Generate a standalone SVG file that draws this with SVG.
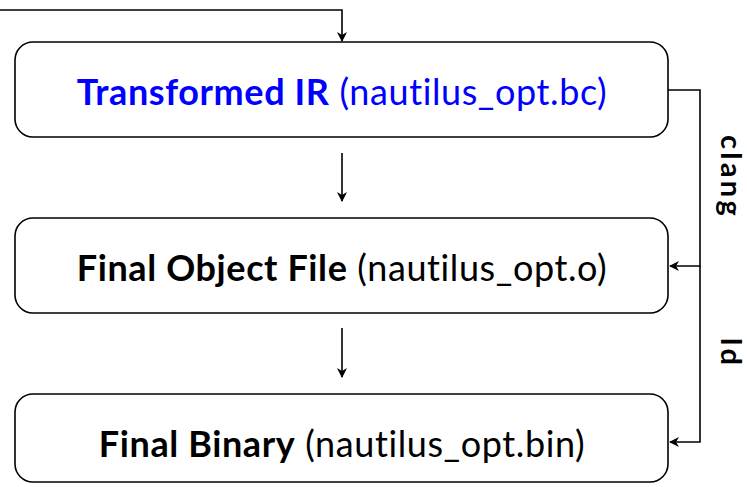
<svg xmlns="http://www.w3.org/2000/svg" width="747" height="487" viewBox="0 0 747 487">
<defs>
<marker id="ah" viewBox="0 0 10 10" refX="9" refY="5" markerWidth="10" markerHeight="10" markerUnits="userSpaceOnUse" orient="auto">
<path d="M0,0 L10,5 L0,10 L3,5 Z" fill="#000"/>
</marker>
<style>
.box{fill:#fff;stroke:#000;stroke-width:1.6}
.ln{fill:none;stroke:#000;stroke-width:1.6}
.t{font-family:Lato,"Open Sans",sans-serif;font-size:36px;letter-spacing:0.6px;text-anchor:middle}
.b{font-weight:bold}
.side{font-family:Lato,"Open Sans",sans-serif;font-size:29px;font-weight:bold;letter-spacing:3.3px;text-anchor:middle}
</style>
</defs>
<rect width="747" height="487" fill="#fff"/>
<g id="connectors">
<path class="ln" d="M0,10 H342 V41" marker-end="url(#ah)"/>
<path class="ln" d="M342,153 V201" marker-end="url(#ah)"/>
<path class="ln" d="M342,328 V377" marker-end="url(#ah)"/>
<path class="ln" d="M668,90 H700 V266 H670" marker-end="url(#ah)"/>
<path class="ln" d="M700,266 V442 H670" marker-end="url(#ah)"/>
</g>
<g id="transformed">
<rect class="box" x="15" y="42" width="653" height="95" rx="18"/>
<text class="t" x="342" y="105" fill="#0000ff"><tspan class="b">Transformed IR</tspan> (nautilus_opt.bc)</text>
</g>
<g id="object">
<rect class="box" x="15" y="218" width="653" height="95" rx="18"/>
<text class="t" x="342" y="281"><tspan class="b">Final Object File</tspan> (nautilus_opt.o)</text>
</g>
<g id="binary">
<rect class="box" x="15" y="394" width="653" height="88" rx="18"/>
<text class="t" x="342" y="457"><tspan class="b">Final Binary</tspan> (nautilus_opt.bin)</text>
</g>
<g id="labels">
<text class="side" transform="translate(721,177) rotate(90)">clang</text>
<text class="side" transform="translate(721,353) rotate(90)">ld</text>
</g>
</svg>
